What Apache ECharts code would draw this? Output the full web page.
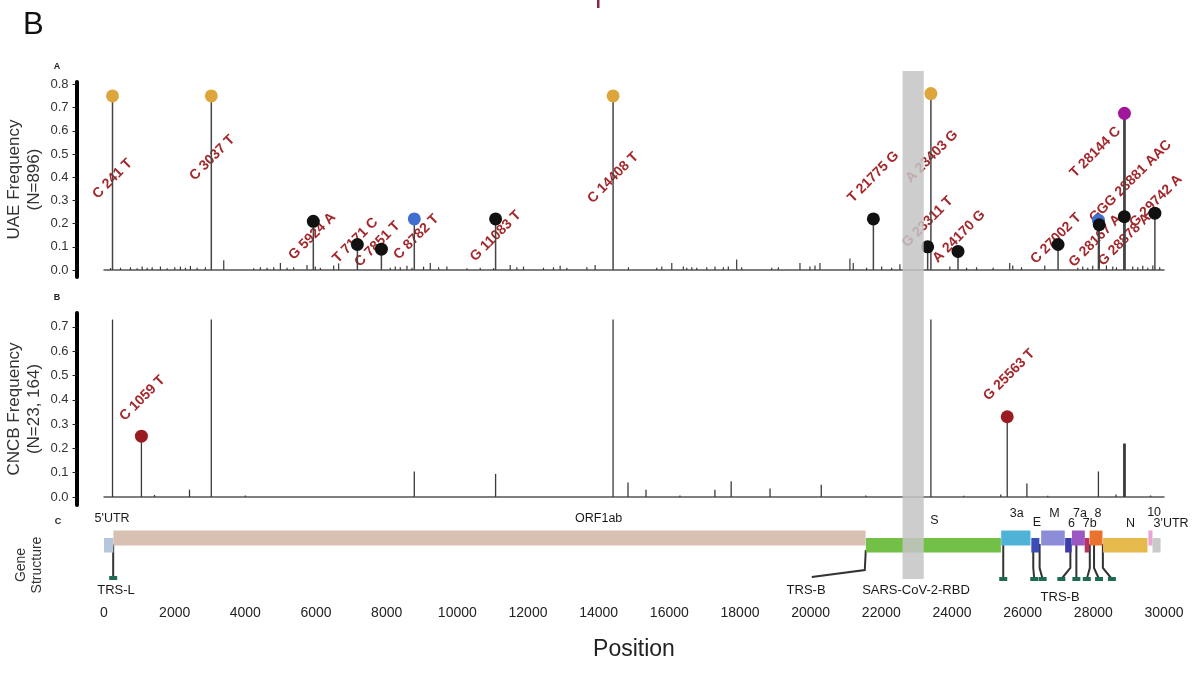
<!DOCTYPE html>
<html>
<head>
<meta charset="utf-8">
<title>SARS-CoV-2 variant frequency along the genome</title>
<script src="https://cdn.jsdelivr.net/npm/echarts@6/dist/echarts.min.js"></script>
<style>
  html, body { margin: 0; padding: 0; background: #ffffff; }
  #chart { width: 1198px; height: 689px; }
</style>
</head>
<body>
<div id="chart"></div>
<script>
// ---------------- data ----------------
// genome position axis
const xTickValues = [0, 2000, 4000, 6000, 8000, 10000, 12000, 14000, 16000, 18000, 20000, 22000, 24000, 26000, 28000, 30000];
const uaeTickValues = [0, 0.1, 0.2, 0.3, 0.4, 0.5, 0.6, 0.7, 0.8];
const cncbTickValues = [0, 0.1, 0.2, 0.3, 0.4, 0.5, 0.6, 0.7];

// UAE cohort: annotated variants
const uaeVariantLabels = ['C 241 T', 'C 3037 T', 'G 5924 A', 'T 7171 C', 'C 7851 T', 'C 8782 T', 'G 11083 T', 'C 14408 T',
  'T 21775 G', 'G 23311 T', 'A 23403 G', 'A 24170 G', 'C 27002 T', 'T 28144 C', 'G 28167 A', 'G 28878 A', 'GGG 28881 AAC', 'G 29742 A'];
const uaeVariantPos = [241, 3037, 5924, 7171, 7851, 8782, 11083, 14408, 21775, 23311, 23403, 24170, 27002, 28144, 28167, 28878, 28881, 29742];
const uaeVariantFreq = [0.75, 0.75, 0.21, 0.11, 0.09, 0.22, 0.22, 0.75, 0.22, 0.10, 0.76, 0.08, 0.11, 0.215, 0.195, 0.23, 0.675, 0.245];
const uaeVariantGroup = ['major', 'major', 'other', 'other', 'other', 'linked', 'other', 'major',
  'other', 'other', 'major', 'other', 'other', 'linked', 'other', 'other', 'triplet', 'other'];

// UAE cohort: low-frequency sites
const uaeMinorPos = [184, 467, 749, 938, 1080, 1221, 1363, 1598, 1787, 2003, 2163, 2305, 2446, 2635, 2870, 3389, 4237, 4425, 4615, 4803,
  4992, 5180, 5368, 5746, 5981, 6123, 6500, 6641, 8102, 8244, 8385, 8574, 8716, 9044, 9234, 9469, 9705, 10271, 10648, 11025,
  11496, 11685, 11873, 12438, 12721, 12910, 13099, 13665, 13900, 14842, 15645, 15786, 16069, 16397, 16493, 16634, 16776, 17059, 17293, 17529,
  17670, 17906, 18048, 18897, 19085, 19697, 19980, 20122, 20263, 21111, 21205, 21583, 22008, 22291, 22525, 23940, 24412, 24695, 25164, 25634,
  25720, 25967, 26626, 27560, 27700, 27842, 27983, 28371, 28551, 28654, 29116, 29258, 29400, 29541, 29683, 29878];
const uaeMinorFreq = [0.008, 0.01, 0.012, 0.008, 0.015, 0.01, 0.012, 0.015, 0.008, 0.012, 0.015, 0.01, 0.018, 0.01, 0.012, 0.042, 0.008, 0.012, 0.01, 0.012,
  0.03, 0.01, 0.012, 0.022, 0.015, 0.01, 0.02, 0.028, 0.01, 0.015, 0.012, 0.018, 0.01, 0.015, 0.03, 0.012, 0.015, 0.008, 0.01, 0.008,
  0.022, 0.012, 0.015, 0.01, 0.012, 0.018, 0.01, 0.012, 0.022, 0.012, 0.01, 0.015, 0.03, 0.015, 0.01, 0.012, 0.01, 0.012, 0.015, 0.012,
  0.015, 0.045, 0.012, 0.01, 0.012, 0.03, 0.015, 0.02, 0.03, 0.05, 0.03, 0.01, 0.015, 0.01, 0.025, 0.015, 0.01, 0.012, 0.01, 0.03,
  0.02, 0.012, 0.02, 0.01, 0.015, 0.01, 0.018, 0.02, 0.015, 0.012, 0.015, 0.012, 0.018, 0.01, 0.02, 0.012];

// CNCB database: all plotted sites
const cncbPos = [241, 1059, 1430, 2420, 3037, 4000, 8782, 11083, 14408, 14830, 15340, 16300, 17290, 17750, 18850, 20300, 21560,
  23403, 24330, 25380, 25563, 26120, 26710, 28144, 28640, 28881, 29620];
const cncbFreq = [0.73, 0.25, 0.008, 0.03, 0.73, 0.006, 0.105, 0.095, 0.73, 0.06, 0.03, 0.006, 0.03, 0.065, 0.035, 0.05, 0.006,
  0.73, 0.005, 0.01, 0.33, 0.055, 0.005, 0.105, 0.01, 0.22, 0.006];
// CNCB database: highlighted variants
const cncbHighlightLabels = ['C 1059 T', 'G 25563 T'];
const cncbHighlightPos = [1059, 25563];
const cncbHighlightFreq = [0.25, 0.33];
// sites where a multi-base substitution is drawn as a wider stem
const multiBaseSites = [28881];

// genome annotation
const geneNames = ["5'UTR", 'ORF1ab', 'S', '3a', 'E', 'M', '6', '7a', '7b', '8', 'N', '10', "3'UTR"];
const geneStart = [1, 266, 21563, 25393, 26245, 26523, 27202, 27394, 27756, 27894, 28274, 29558, 29675];
const geneEnd = [265, 21555, 25384, 26220, 26472, 27191, 27387, 27759, 27887, 28259, 29533, 29674, 29903];
const trsLeaderPos = [260];
const trsSpikePos = [21560];
const trsBodyPos = [25450, 26300, 26480, 27350, 27520, 27900, 28020, 28270];
const rbdRange = [22600, 23200];

// ---------------- styling / layout ----------------
const FONT = '"Liberation Sans", Arial, Helvetica, sans-serif';
const groupColor = { major: '#dda63c', other: '#111111', linked: '#3f6fcf', triplet: '#a0179b' };
const highlightColor = '#9a1b22';
const labelColor = '#a3282c';
const geneColor = ['#b4c6dc', '#d8c1b3', '#72c045', '#4fb3d8', '#3b4db8', '#8c8cd9', '#3d3da8', '#9b57c2', '#b83262', '#e8722e', '#e6b94c', '#e9a3d6', '#c9c9c9'];
const geneRow = [1, 0, 1, 0, 1, 0, 1, 0, 1, 0, 1, 0, 1];
const rowBand = [[30.5, 45.5], [38, 52.5]];             // px below the annotation grid top
const geneLabelX = [230, 14000, 23500, 25830, 26400, 26900, 27380, 27620, 27900, 28130, 29050, 29720, 30200];
const geneLabelY = [19, 19, 21, 14, 23, 14, 24, 14, 24, 14, 24, 13, 24];
// rotated label centre relative to its dot, screen px
const uaeLabelOffset = [[0, 83], [1, 62], [-1, 15], [-2, -4], [-4, -5], [2, 18], [0, 17], [0, 82], [0, -42], [0, -25], [1, 63],
  [1, -15], [-2, -6], [-3, -68], [-4, 16], [0, 23], [6, 68], [1, -12]];
const cncbLabelOffset = [[1, -38], [2, -42]];
const trsBodyCapShift = [0, 1, 3, -9, 0, -3, 5, 9];

// ---------------- render helpers ----------------
function stemRenderer(defaultWidth, color) {
  return function (params, api) {
    const pos = api.value(0);
    const top = api.coord([pos, api.value(1)]);
    const base = api.coord([pos, 0]);
    const width = multiBaseSites.indexOf(pos) >= 0 ? 2.8 : defaultWidth;
    return { type: 'line', shape: { x1: top[0], y1: base[1], x2: top[0], y2: top[1] },
      style: { stroke: color, lineWidth: width } };
  };
}
function labelRenderer(texts, offsets) {
  return function (params, api) {
    const i = api.value(2);
    const p = api.coord([api.value(0), api.value(1)]);
    return { type: 'text', x: p[0] + offsets[i][0], y: p[1] + offsets[i][1], rotation: Math.PI / 4,
      style: { text: texts[i], fill: labelColor, font: 'bold 14px ' + FONT, align: 'center', verticalAlign: 'middle' } };
  };
}
function capRect(x, y) {
  return { type: 'rect', shape: { x: x - 4, y: y - 2, width: 8, height: 4 }, style: { fill: '#1f6b52' } };
}

const uaeVariantData = uaeVariantPos.map((p, i) => [p, uaeVariantFreq[i], i]);
const cncbHighlightData = cncbHighlightPos.map((p, i) => [p, cncbHighlightFreq[i], i]);

const X_LEFT = 104, X_RIGHT = 34;
function positionAxis(gridIndex, showLabels) {
  const axis = {
    gridIndex: gridIndex, type: 'value', min: 0, max: 30000,
    axisLine: { show: !showLabels, onZero: true, lineStyle: { color: '#555', width: 1.5 } },
    axisTick: { show: false }, splitLine: { show: false },
    axisLabel: { show: false }
  };
  if (showLabels) {
    axis.axisLabel = { show: true, customValues: xTickValues, formatter: v => String(v), fontSize: 14, color: '#222', margin: 6, fontFamily: FONT };
    axis.name = 'Position';
    axis.nameLocation = 'middle';
    axis.nameGap = 38;
    axis.nameTextStyle = { fontSize: 23, color: '#222', fontFamily: FONT };
  }
  return axis;
}
function freqAxis(gridIndex, min, max, ticks, name) {
  return {
    gridIndex: gridIndex, type: 'value', min: min, max: max, offset: 27.5, position: 'left',
    axisLine: { show: true, onZero: false, lineStyle: { color: '#000', width: 4 } },
    axisTick: { show: true, length: 4, customValues: ticks, lineStyle: { color: '#222', width: 1 } },
    axisLabel: { customValues: ticks, formatter: v => v.toFixed(1), fontSize: 13, color: '#333', margin: 8, fontFamily: FONT },
    splitLine: { show: false },
    name: name, nameLocation: 'middle', nameRotate: 90, nameGap: 32, nameMoveOverlap: false,
    nameTextStyle: { fontSize: 17, color: '#333', lineHeight: 20, fontFamily: FONT }
  };
}
function panelGrid(top, height) {
  return { left: X_LEFT, right: X_RIGHT, top: top, height: height, outerBoundsMode: 'none', containLabel: false };
}

const option = {
  animation: false,
  backgroundColor: '#ffffff',
  textStyle: { fontFamily: FONT },
  grid: [
    panelGrid(82, 195),     // UAE frequency
    panelGrid(313, 192),    // CNCB frequency
    panelGrid(500, 100),    // gene structure
    panelGrid(71, 508)      // RBD highlight
  ],
  xAxis: [positionAxis(0, false), positionAxis(1, false), positionAxis(2, true),
    { gridIndex: 3, type: 'value', min: 0, max: 30000, show: false }],
  yAxis: [
    freqAxis(0, -0.03, 0.81, uaeTickValues, 'UAE Frequency\n(N=896)'),
    freqAxis(1, -0.033, 0.757, cncbTickValues, 'CNCB Frequency\n(N=23, 164)'),
    { gridIndex: 2, type: 'value', min: 0, max: 100, inverse: true, show: false },
    { gridIndex: 3, type: 'value', min: 0, max: 1, show: false }
  ],
  graphic: [
    { type: 'text', left: 23, top: 10, style: { text: 'B', font: '31px ' + FONT, fill: '#111' } },
    { type: 'rect', shape: { x: 597, y: 0, width: 2.5, height: 8 }, style: { fill: '#8c2342' } },
    { type: 'text', x: 57, y: 67, style: { text: 'A', font: 'bold 9px ' + FONT, fill: '#222', align: 'center', verticalAlign: 'middle' } },
    { type: 'text', x: 57, y: 298, style: { text: 'B', font: 'bold 9px ' + FONT, fill: '#222', align: 'center', verticalAlign: 'middle' } },
    { type: 'text', x: 58, y: 522, style: { text: 'C', font: 'bold 9px ' + FONT, fill: '#222', align: 'center', verticalAlign: 'middle' } },
    { type: 'text', x: 29, y: 565, rotation: Math.PI / 2,
      style: { text: 'Gene\nStructure', font: '14px ' + FONT, fill: '#333', align: 'center', verticalAlign: 'middle', lineHeight: 16 } }
  ],
  series: [
    // ---- UAE panel ----
    { type: 'custom', xAxisIndex: 0, yAxisIndex: 0, z: 2, silent: true,
      data: uaeMinorPos.map((p, i) => [p, uaeMinorFreq[i]]), renderItem: stemRenderer(1.2, '#3a3a3a') },
    { type: 'custom', xAxisIndex: 0, yAxisIndex: 0, z: 3, silent: true,
      data: uaeVariantData, renderItem: labelRenderer(uaeVariantLabels, uaeLabelOffset) },
    { type: 'custom', xAxisIndex: 0, yAxisIndex: 0, z: 4, silent: true,
      data: uaeVariantData, renderItem: stemRenderer(1.5, '#454545') },
    { type: 'scatter', xAxisIndex: 0, yAxisIndex: 0, z: 5, silent: true, symbolSize: 13,
      data: uaeVariantData.map((d, i) => ({ value: d, itemStyle: { color: groupColor[uaeVariantGroup[i]], opacity: 1 } })) },

    // ---- CNCB panel ----
    { type: 'custom', xAxisIndex: 1, yAxisIndex: 1, z: 2, silent: true,
      data: cncbPos.map((p, i) => [p, cncbFreq[i]]), renderItem: stemRenderer(1.3, '#3a3a3a') },
    { type: 'custom', xAxisIndex: 1, yAxisIndex: 1, z: 3, silent: true,
      data: cncbHighlightData, renderItem: labelRenderer(cncbHighlightLabels, cncbLabelOffset) },
    { type: 'scatter', xAxisIndex: 1, yAxisIndex: 1, z: 5, silent: true, symbolSize: 13,
      itemStyle: { color: highlightColor, opacity: 1 }, data: cncbHighlightData },

    // ---- gene structure: TRS markers ----
    { type: 'custom', xAxisIndex: 2, yAxisIndex: 2, z: 2, silent: true,
      data: [[0]],
      renderItem: function (params, api) {
        const children = [];
        const stem = { stroke: '#333', lineWidth: 2 };
        trsLeaderPos.forEach(function (p) {
          const a = api.coord([p, 44]), b = api.coord([p, 78]);
          children.push({ type: 'line', shape: { x1: a[0], y1: a[1], x2: b[0], y2: b[1] }, style: stem });
          children.push(capRect(b[0], b[1]));
        });
        trsSpikePos.forEach(function (p) {
          const a = api.coord([p, 50]), k = api.coord([p, 70]);
          children.push({ type: 'polyline', shape: { points: [[a[0], a[1]], [k[0] - 1, k[1]], [k[0] - 54, k[1] + 7]] }, style: Object.assign({ fill: null }, stem) });
        });
        trsBodyPos.forEach(function (p, i) {
          const a = api.coord([p, 44]), k = api.coord([p, 68]), b = api.coord([p, 79]);
          const cx = b[0] + trsBodyCapShift[i];
          children.push({ type: 'polyline', shape: { points: [[a[0], a[1]], [k[0], k[1]], [cx, b[1]]] }, style: Object.assign({ fill: null }, stem) });
          children.push(capRect(cx, b[1]));
        });
        return { type: 'group', children: children };
      } },
    // ---- gene structure: gene boxes ----
    { type: 'custom', xAxisIndex: 2, yAxisIndex: 2, z: 3, silent: true,
      data: geneStart.map((s, i) => [s, geneEnd[i], i]),
      renderItem: function (params, api) {
        const i = api.value(2);
        const band = rowBand[geneRow[i]];
        const p0 = api.coord([api.value(0), band[0]]);
        const p1 = api.coord([api.value(1), band[1]]);
        return { type: 'rect', shape: { x: p0[0], y: p0[1], width: Math.max(p1[0] - p0[0], 1), height: p1[1] - p0[1] },
          style: { fill: geneColor[i] } };
      } },
    // ---- gene structure: text ----
    { type: 'custom', xAxisIndex: 2, yAxisIndex: 2, z: 4, silent: true,
      data: geneNames.map((n, i) => [geneLabelX[i], geneLabelY[i], i]),
      renderItem: function (params, api) {
        const i = api.value(2);
        const p = api.coord([api.value(0), api.value(1)]);
        return { type: 'text', x: p[0], y: p[1],
          style: { text: geneNames[i], font: '12.5px ' + FONT, fill: '#1a1a1a', align: 'center', verticalAlign: 'middle' } };
      } },
    { type: 'custom', xAxisIndex: 2, yAxisIndex: 2, z: 4, silent: true,
      data: [[340, 90, 'TRS-L'], [19870, 90, 'TRS-B'], [22980, 90, 'SARS-CoV-2-RBD'], [27060, 97, 'TRS-B']],
      dimensions: ['x', 'y', { name: 'text', type: 'ordinal' }],
      renderItem: function (params, api) {
        const item = option.series[params.seriesIndex].data[params.dataIndex];
        const p = api.coord([item[0], item[1]]);
        return { type: 'text', x: p[0], y: p[1],
          style: { text: item[2], font: '13px ' + FONT, fill: '#1a1a1a', align: 'center', verticalAlign: 'middle' } };
      } },

    // ---- receptor-binding domain band across all panels ----
    { type: 'custom', xAxisIndex: 3, yAxisIndex: 3, z: 30, silent: true,
      data: [rbdRange],
      renderItem: function (params, api) {
        const p0 = api.coord([api.value(0), 1]);
        const p1 = api.coord([api.value(1), 0]);
        return { type: 'rect', shape: { x: p0[0], y: p0[1], width: p1[0] - p0[0], height: p1[1] - p0[1] },
          style: { fill: 'rgba(196,196,196,0.85)' } };
      } }
  ]
};

const chart = echarts.init(document.getElementById('chart'), null, { renderer: 'canvas' });
chart.setOption(option);
</script>
</body>
</html>
